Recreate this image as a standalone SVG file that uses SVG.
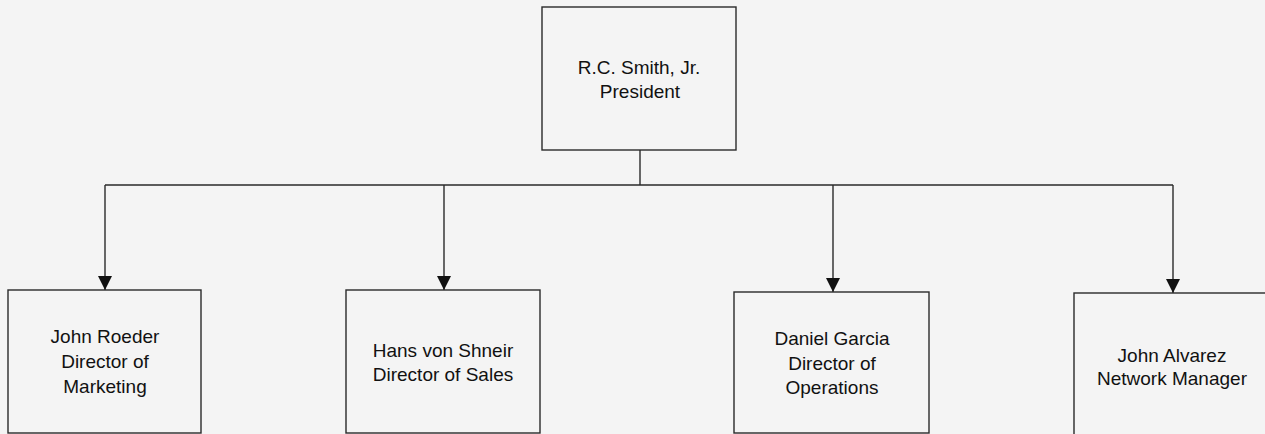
<svg xmlns="http://www.w3.org/2000/svg" width="1265" height="434" viewBox="0 0 1265 434">
<style>
.box{fill:none;stroke:#2a2a2a;stroke-width:1.4}
.con{fill:none;stroke:#2a2a2a;stroke-width:1.4}
text{font-family:"Liberation Sans",Arial,sans-serif;font-size:19px;fill:#111;text-anchor:middle}
</style>
<defs>
<marker id="ah" markerUnits="userSpaceOnUse" markerWidth="16" markerHeight="16" viewBox="0 0 16 16" refX="15" refY="8" orient="auto">
<path d="M1,1 L15,8 L1,15 Z" fill="#111"/>
</marker>
</defs>
<rect width="1265" height="434" fill="#f4f4f4"/>
<g id="connectors">
<line class="con" x1="640" y1="150" x2="640" y2="185"/>
<line class="con" x1="105" y1="185" x2="1173" y2="185"/>
<line class="con" x1="105" y1="185" x2="105" y2="290" marker-end="url(#ah)"/>
<line class="con" x1="444" y1="185" x2="444" y2="290" marker-end="url(#ah)"/>
<line class="con" x1="833" y1="185" x2="833" y2="292" marker-end="url(#ah)"/>
<line class="con" x1="1173" y1="185" x2="1173" y2="293" marker-end="url(#ah)"/>
</g>
<g id="president">
<rect class="box" x="542" y="7" width="194" height="143"/>
<text x="639" y="74">R.C. Smith, Jr.</text>
<text x="640" y="98">President</text>
</g>
<g id="marketing">
<rect class="box" x="8" y="290" width="193" height="143"/>
<text x="105" y="343">John Roeder</text>
<text x="105" y="368">Director of</text>
<text x="105" y="393">Marketing</text>
</g>
<g id="sales">
<rect class="box" x="346" y="290" width="194" height="143"/>
<text x="443" y="357">Hans von Shneir</text>
<text x="443" y="381">Director of Sales</text>
</g>
<g id="operations">
<rect class="box" x="734" y="292" width="195" height="141"/>
<text x="832" y="345">Daniel Garcia</text>
<text x="832" y="370">Director of</text>
<text x="832" y="394">Operations</text>
</g>
<g id="network">
<rect class="box" x="1074" y="293" width="196" height="142"/>
<text x="1172" y="362">John Alvarez</text>
<text x="1172" y="385">Network Manager</text>
</g>
</svg>
